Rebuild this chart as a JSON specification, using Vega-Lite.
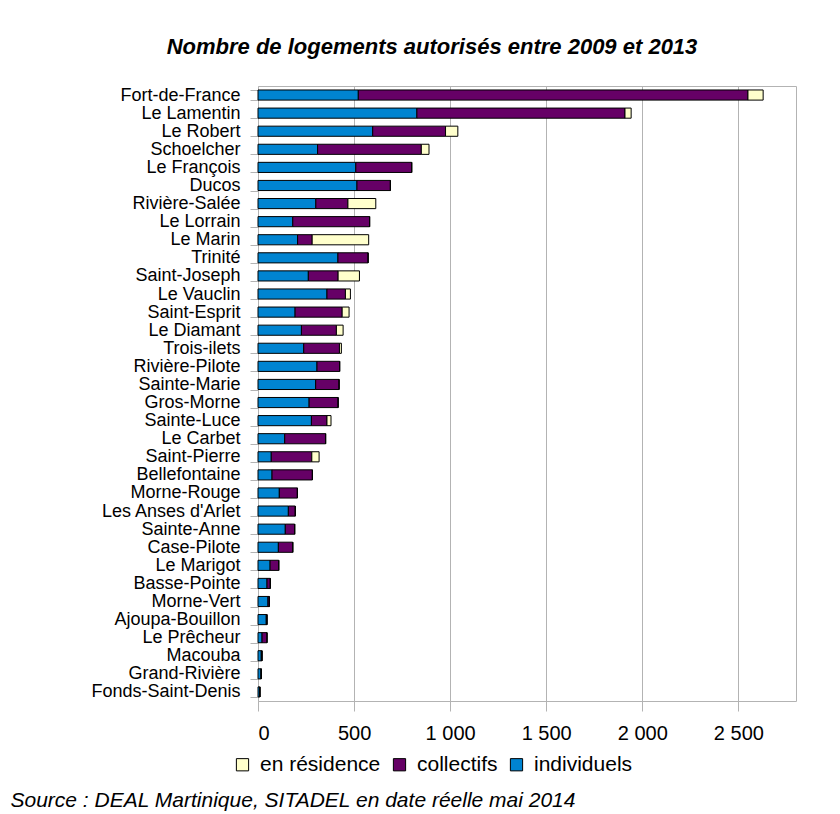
{
  "$schema": "https://vega.github.io/schema/vega-lite/v6.json",
  "width": 538,
  "height": 615,
  "autosize": {"type": "none"},
  "padding": {"left": 258, "top": 86, "right": 44, "bottom": 113},
  "background": "white",
  "title": {
    "text": "Nombre de logements autorisés entre 2009 et 2013",
    "font": "Liberation Sans",
    "fontSize": 22,
    "fontStyle": "italic",
    "fontWeight": "bold",
    "color": "black",
    "anchor": "middle",
    "frame": "group",
    "baseline": "alphabetic",
    "offset": 1,
    "dx": -95
  },
  "data": {
    "values": [
      {"commune": "Fort-de-France", "individuels": 522, "collectifs": 2028, "en résidence": 79},
      {"commune": "Le Lamentin", "individuels": 827, "collectifs": 1083, "en résidence": 32},
      {"commune": "Le Robert", "individuels": 597, "collectifs": 379, "en résidence": 64},
      {"commune": "Schoelcher", "individuels": 310, "collectifs": 540, "en résidence": 40},
      {"commune": "Le François", "individuels": 509, "collectifs": 291, "en résidence": 0},
      {"commune": "Ducos", "individuels": 515, "collectifs": 174, "en résidence": 0},
      {"commune": "Rivière-Salée", "individuels": 301, "collectifs": 167, "en résidence": 145},
      {"commune": "Le Lorrain", "individuels": 181, "collectifs": 400, "en résidence": 0},
      {"commune": "Le Marin", "individuels": 206, "collectifs": 76, "en résidence": 294},
      {"commune": "Trinité", "individuels": 416, "collectifs": 157, "en résidence": 0},
      {"commune": "Saint-Joseph", "individuels": 262, "collectifs": 155, "en résidence": 111},
      {"commune": "Le Vauclin", "individuels": 359, "collectifs": 96, "en résidence": 26},
      {"commune": "Saint-Esprit", "individuels": 193, "collectifs": 245, "en résidence": 36},
      {"commune": "Le Diamant", "individuels": 226, "collectifs": 182, "en résidence": 35},
      {"commune": "Trois-ilets", "individuels": 238, "collectifs": 186, "en résidence": 10},
      {"commune": "Rivière-Pilote", "individuels": 307, "collectifs": 118, "en résidence": 0},
      {"commune": "Sainte-Marie", "individuels": 300, "collectifs": 122, "en résidence": 0},
      {"commune": "Gros-Morne", "individuels": 266, "collectifs": 151, "en résidence": 0},
      {"commune": "Sainte-Luce", "individuels": 278, "collectifs": 81, "en résidence": 21},
      {"commune": "Le Carbet", "individuels": 139, "collectifs": 213, "en résidence": 0},
      {"commune": "Saint-Pierre", "individuels": 69, "collectifs": 211, "en résidence": 38},
      {"commune": "Bellefontaine", "individuels": 73, "collectifs": 210, "en résidence": 0},
      {"commune": "Morne-Rouge", "individuels": 111, "collectifs": 94, "en résidence": 0},
      {"commune": "Les Anses d'Arlet", "individuels": 158, "collectifs": 36, "en résidence": 0},
      {"commune": "Sainte-Anne", "individuels": 142, "collectifs": 49, "en résidence": 0},
      {"commune": "Case-Pilote", "individuels": 106, "collectifs": 75, "en résidence": 0},
      {"commune": "Le Marigot", "individuels": 63, "collectifs": 45, "en résidence": 0},
      {"commune": "Basse-Pointe", "individuels": 47, "collectifs": 17, "en résidence": 0},
      {"commune": "Morne-Vert", "individuels": 52, "collectifs": 7, "en résidence": 0},
      {"commune": "Ajoupa-Bouillon", "individuels": 43, "collectifs": 4, "en résidence": 0},
      {"commune": "Le Prêcheur", "individuels": 21, "collectifs": 26, "en résidence": 0},
      {"commune": "Macouba", "individuels": 17, "collectifs": 4, "en résidence": 0},
      {"commune": "Grand-Rivière", "individuels": 16, "collectifs": 1, "en résidence": 0},
      {"commune": "Fonds-Saint-Denis", "individuels": 9, "collectifs": 1, "en résidence": 0}
    ]
  },
  "transform": [
    {"fold": ["individuels", "collectifs", "en résidence"], "as": ["type", "n"]},
    {"calculate": "indexof(['individuels', 'collectifs', 'en résidence'], datum.type)", "as": "rang"}
  ],
  "mark": {"type": "bar", "stroke": "black", "strokeWidth": 1},
  "encoding": {
    "y": {
      "field": "commune",
      "type": "nominal",
      "sort": null,
      "scale": {"paddingInner": 0.44, "paddingOuter": 0.22},
      "axis": {
        "title": null,
        "labelFont": "Liberation Sans",
        "labelFontSize": 18,
        "labelColor": "black",
        "tickBand": "extent",
        "tickColor": "#b3b3b3",
        "tickSize": 8,
        "labelPadding": 10,
        "domain": false,
        "grid": false
      }
    },
    "x": {
      "field": "n",
      "type": "quantitative",
      "stack": "zero",
      "scale": {"domain": [0, 2800], "nice": false},
      "axis": {
        "values": [0, 500, 1000, 1500, 2000, 2500],
        "labelExpr": "replace(format(datum.value, ','), ',', ' ')",
        "labelFont": "Liberation Sans",
        "labelFontSize": 20,
        "labelColor": "black",
        "labelPadding": 12,
        "tickSize": 10,
        "tickColor": "#b3b3b3",
        "gridColor": "#b3b3b3",
        "grid": true,
        "domain": false,
        "title": "Source : DEAL Martinique, SITADEL en date réelle mai 2014",
        "titleFont": "Liberation Sans",
        "titleFontSize": 21,
        "titleFontStyle": "italic",
        "titleFontWeight": "normal",
        "titleColor": "black",
        "titleAlign": "left",
        "titleBaseline": "alphabetic",
        "titleX": -248,
        "titleY": 105
      }
    },
    "color": {
      "field": "type",
      "type": "nominal",
      "scale": {
        "domain": ["en résidence", "collectifs", "individuels"],
        "range": ["#ffffcc", "#660066", "#0084d1"]
      },
      "legend": {
        "orient": "none",
        "legendX": -26,
        "legendY": 668,
        "direction": "horizontal",
        "title": null,
        "labelFont": "Liberation Sans",
        "labelFontSize": 21,
        "labelColor": "black",
        "symbolType": "square",
        "symbolSize": 150,
        "symbolStrokeColor": "black",
        "symbolStrokeWidth": 1,
        "symbolOpacity": 1,
        "columnPadding": 8,
        "labelOffset": 7
      }
    },
    "order": {"field": "rang", "type": "quantitative"}
  },
  "config": {
    "view": {"stroke": "#b3b3b3"}
  }
}
